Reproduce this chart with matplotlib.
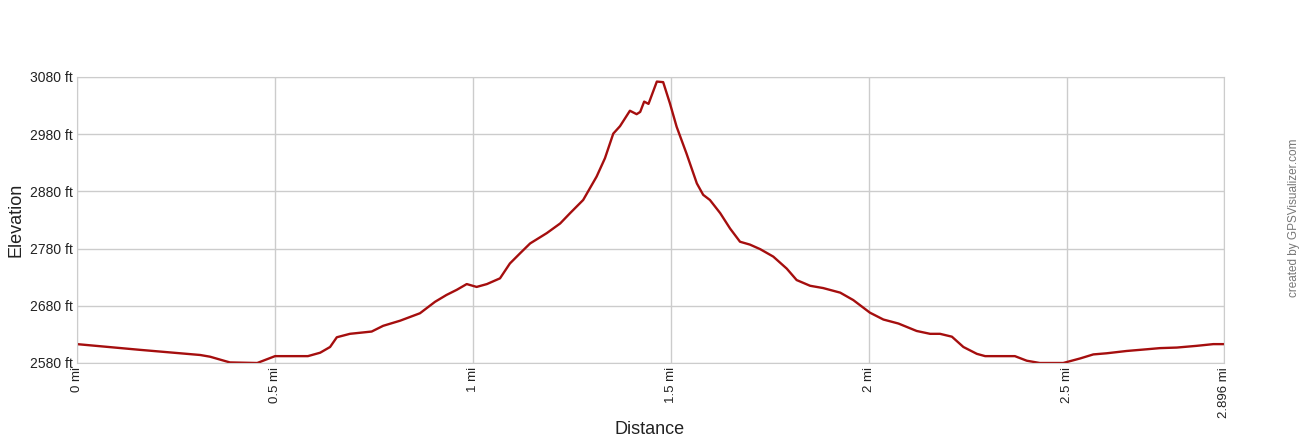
import matplotlib
matplotlib.use("Agg")
import matplotlib.pyplot as plt

plt.rcParams["font.family"] = ["Liberation Sans", "DejaVu Sans"]

# distance (mi) and elevation (ft)
distance = [
    0.0, 0.159, 0.311, 0.336, 0.386, 0.455, 0.5, 0.583, 0.614, 0.639, 0.656,
    0.689, 0.744, 0.773, 0.816, 0.866, 0.904, 0.933, 0.959, 0.984, 1.009,
    1.035, 1.068, 1.093, 1.119, 1.144, 1.186, 1.220, 1.245, 1.278, 1.312,
    1.333, 1.354, 1.371, 1.396, 1.413, 1.422, 1.432, 1.443, 1.464, 1.480,
    1.497, 1.514, 1.539, 1.565, 1.581, 1.598, 1.624, 1.649, 1.674, 1.699,
    1.725, 1.758, 1.792, 1.817, 1.851, 1.884, 1.927, 1.960, 2.002, 2.036,
    2.074, 2.120, 2.154, 2.179, 2.209, 2.238, 2.272, 2.293, 2.368, 2.398,
    2.431, 2.490, 2.533, 2.566, 2.600, 2.650, 2.701, 2.734, 2.777, 2.827,
    2.869, 2.896,
]
elevation = [
    2613, 2603, 2594, 2591, 2581, 2580, 2592, 2592, 2598, 2608, 2625,
    2631, 2635, 2645, 2654, 2667, 2687, 2699, 2708, 2718, 2713,
    2718, 2728, 2754, 2772, 2789, 2807, 2824, 2842, 2865, 2906,
    2938, 2981, 2994, 3021, 3015, 3019, 3037, 3033, 3072, 3071,
    3034, 2993, 2946, 2894, 2874, 2865, 2842, 2815, 2792, 2787,
    2779, 2766, 2745, 2725, 2715, 2711, 2703, 2690, 2668, 2656,
    2649, 2636, 2631, 2631, 2626, 2608, 2596, 2592, 2592, 2584,
    2580, 2580, 2588, 2595, 2597, 2601, 2604, 2606, 2607, 2610,
    2613, 2613,
]
x_ticks = [0, 0.5, 1, 1.5, 2, 2.5, 2.896]
x_tick_labels = ["0 mi", "0.5 mi", "1 mi", "1.5 mi", "2 mi", "2.5 mi", "2.896 mi"]
y_ticks = [2580, 2680, 2780, 2880, 2980, 3080]
y_tick_labels = ["2580 ft", "2680 ft", "2780 ft", "2880 ft", "2980 ft", "3080 ft"]

fig = plt.figure(figsize=(13, 4.4), dpi=100)
ax = fig.add_axes([77 / 1300, 77 / 440, 1147 / 1300, 286 / 440])

ax.plot(distance, elevation, color="#a50e0e", linewidth=1.7)

ax.set_xlim(0, 2.896)
ax.set_ylim(2580, 3080)
ax.set_xticks(x_ticks)
ax.set_xticklabels(x_tick_labels, rotation=90, fontsize=9.5, color="#222222")
ax.set_yticks(y_ticks)
ax.set_yticklabels(y_tick_labels, fontsize=10, color="#222222")
ax.tick_params(length=0, pad=3)
ax.grid(True, color="#cccccc", linewidth=1)
ax.set_axisbelow(True)
for s in ax.spines.values():
    s.set_color("#cccccc")

fig.text(650 / 1300, 1 - 429 / 440, "Distance", fontsize=13, color="#222222",
         ha="center", va="center")
fig.text(16 / 1300, 1 - 220 / 440, "Elevation", fontsize=13, color="#222222",
         ha="center", va="center", rotation=90)

fig.text(1294 / 1300, 1 - 218 / 440, "created by GPSVisualizer.com", rotation=90,
         fontsize=8.5, color="#777777", ha="center", va="center")

fig.savefig("out.png", dpi=100, facecolor="white")
